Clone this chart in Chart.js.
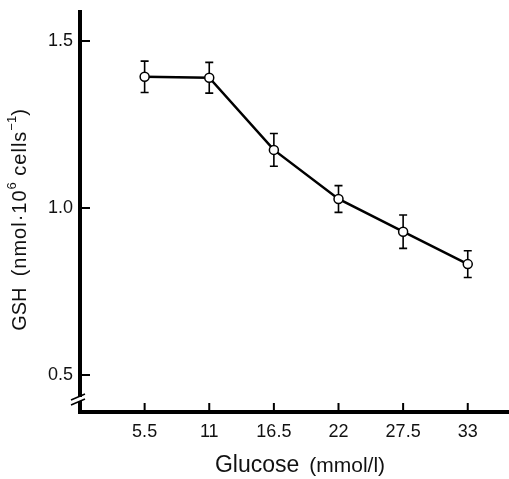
<!DOCTYPE html>
<html>
<head>
<meta charset="utf-8">
<script src="https://cdn.jsdelivr.net/npm/chart.js@4.4.1/dist/chart.umd.min.js"></script>
<style>
  body { margin: 0; background: #fff; }
  #wrap { width: 509px; height: 479px; }
</style>
</head>
<body>
<div id="wrap"><canvas id="myChart" width="509" height="479"></canvas></div>
<script>
// valores
const glucose = [5.5, 11, 16.5, 22, 27.5, 33];
const gsh = [1.393, 1.390, 1.174, 1.027, 0.929, 0.832];
const gshErr = [0.047, 0.046, 0.049, 0.040, 0.050, 0.040];
const xTicks = [5.5, 11, 16.5, 22, 27.5, 33];
const yTicks = [0.5, 1.0, 1.5];

const tickFont = { family: "'Liberation Sans', Arial, sans-serif", size: 18 };

// ejes, marcas, corte del eje y titulos
const decor = {
  id: "decor",
  beforeDatasetsDraw(chart) {
    const ctx = chart.ctx;
    const xs = chart.scales.x, ys = chart.scales.y;
    ctx.save();
    ctx.strokeStyle = "#000";
    ctx.lineWidth = 1.6;
    glucose.forEach((g, i) => {
      const px = xs.getPixelForValue(g);
      const top = ys.getPixelForValue(gsh[i] + gshErr[i]);
      const bot = ys.getPixelForValue(gsh[i] - gshErr[i]);
      ctx.beginPath();
      ctx.moveTo(px, top); ctx.lineTo(px, bot);
      ctx.moveTo(px - 4, top); ctx.lineTo(px + 4, top);
      ctx.moveTo(px - 4, bot); ctx.lineTo(px + 4, bot);
      ctx.stroke();
    });
    ctx.restore();
  },
  afterDraw(chart) {
    const ctx = chart.ctx;
    const a = chart.chartArea;
    const xs = chart.scales.x, ys = chart.scales.y;
    ctx.save();
    ctx.strokeStyle = "#000";
    ctx.lineCap = "butt";
    // ejes
    ctx.lineWidth = 4;
    ctx.beginPath();
    ctx.moveTo(a.left, a.top);
    ctx.lineTo(a.left, a.bottom);
    ctx.moveTo(a.left - 2, a.bottom);
    ctx.lineTo(chart.width, a.bottom);
    ctx.stroke();
    // marcas
    ctx.lineWidth = 2;
    ctx.beginPath();
    yTicks.forEach(v => {
      const py = ys.getPixelForValue(v);
      ctx.moveTo(a.left, py); ctx.lineTo(a.left + 10, py);
    });
    xTicks.forEach(v => {
      const px = xs.getPixelForValue(v);
      ctx.moveTo(px, a.bottom); ctx.lineTo(px, a.bottom - 9);
    });
    ctx.stroke();
    // corte del eje y
    const by = a.bottom - 13;
    ctx.fillStyle = "#fff";
    ctx.fillRect(a.left - 3, by - 2, 6, 4);
    ctx.lineWidth = 1.5;
    ctx.beginPath();
    ctx.moveTo(a.left - 9, by + 1); ctx.lineTo(a.left + 5, by - 5);
    ctx.moveTo(a.left - 9, by + 6); ctx.lineTo(a.left + 5, by);
    ctx.stroke();

    // titulo eje x
    ctx.fillStyle = "#111";
    ctx.textBaseline = "middle";
    ctx.textAlign = "left";
    const f1 = "23px 'Liberation Sans', Arial, sans-serif";
    const f2 = "21px 'Liberation Sans', Arial, sans-serif";
    ctx.font = f1;
    const w1 = ctx.measureText("Glucose").width;
    ctx.font = f2;
    const w2 = ctx.measureText("(mmol/l)").width;
    const gap = 10;
    let x0 = 300 - (w1 + gap + w2) / 2;
    ctx.font = f1;
    ctx.fillText("Glucose", x0, 466);
    ctx.font = f2;
    ctx.fillText("(mmol/l)", x0 + w1 + gap, 466);

    // titulo eje y
    ctx.translate(20, 220);
    ctx.rotate(-Math.PI / 2);
    const g1 = "20px 'Liberation Sans', Arial, sans-serif";
    const g2 = "20px 'Liberation Sans', Arial, sans-serif";
    const g3 = "13px 'Liberation Sans', Arial, sans-serif";
    const parts = [
      ["GSH", g1, 0, 0], ["  ", g2, 0, 0], ["(nmol\u00b710", g2, 0, 1], ["6", g3, -8, 0],
      [" cells", g2, 0, 1], ["\u22121", g3, -8, 0], [")", g2, 0, 0]
    ];
    const setF = p => { ctx.font = p[1]; ctx.letterSpacing = p[3] + "px"; };
    let total = 0;
    parts.forEach(p => { setF(p); total += ctx.measureText(p[0]).width; });
    let cx = -total / 2;
    parts.forEach(p => {
      setF(p);
      ctx.fillText(p[0], cx, p[2]);
      cx += ctx.measureText(p[0]).width;
    });
    ctx.restore();
  }
};

const ctx = document.getElementById("myChart").getContext("2d");
const chart = new Chart(ctx, {
  type: "line",
  data: {
    datasets: [{
      label: "GSH",
      data: glucose.map((g, i) => ({ x: g, y: gsh[i] })),
      borderColor: "#000",
      borderWidth: 2.5,
      tension: 0,
      fill: false,
      pointRadius: 4.5,
      pointBackgroundColor: "#fff",
      pointBorderColor: "#000",
      pointBorderWidth: 1.5
    }]
  },
  options: {
    responsive: false,
    animation: false,
    events: [],
    layout: { padding: { top: 10, right: 0, left: 0, bottom: 0 } },
    plugins: { legend: { display: false }, tooltip: { enabled: false } },
    scales: {
      x: {
        type: "linear",
        min: 0,
        max: 36,
        grid: { display: false, drawTicks: false },
        border: { display: false },
        afterBuildTicks: s => { s.ticks = xTicks.map(v => ({ value: v })); },
        afterFit: s => { s.height = 67; s.paddingLeft = 0; s.paddingRight = 0; },
        ticks: {
          color: "#111",
          font: tickFont,
          padding: 9,
          maxRotation: 0,
          autoSkip: false,
          callback: v => String(v)
        }
      },
      y: {
        min: 0.389,
        max: 1.593,
        grid: { display: false, drawTicks: false },
        border: { display: false },
        afterBuildTicks: s => { s.ticks = yTicks.map(v => ({ value: v })); },
        afterFit: s => { s.width = 80; s.paddingTop = 0; s.paddingBottom = 0; },
        ticks: {
          color: "#111",
          font: tickFont,
          padding: 7,
          autoSkip: false,
          callback: v => v.toFixed(1)
        }
      }
    }
  },
  plugins: [decor]
});
</script>
</body>
</html>
